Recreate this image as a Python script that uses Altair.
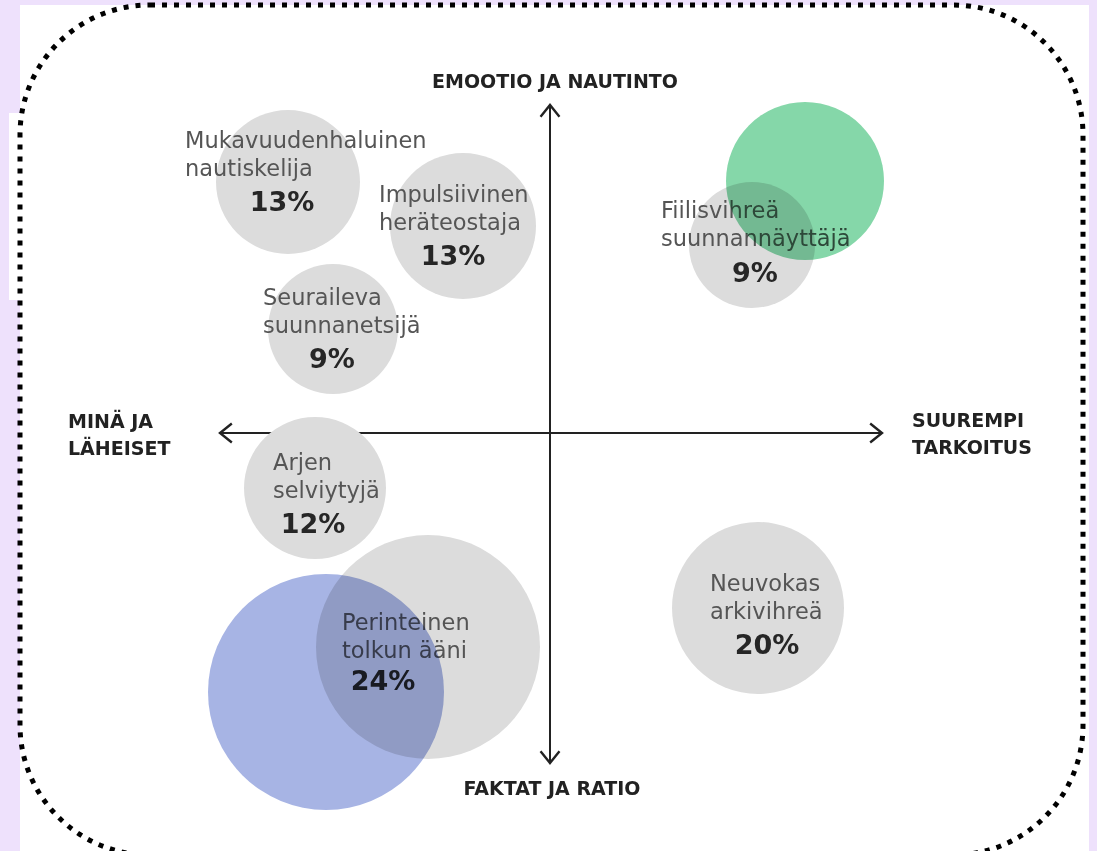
import altair as alt
import pandas as pd

# ---------------- data (axis units: origin at the crossing of the two arrows) ----------------
line1 = ["Mukavuudenhaluinen", "Impulsiivinen", "Seuraileva", "Fiilisvihreä",
         "Arjen", "Perinteinen", "Neuvokas"]
line2 = ["nautiskelija", "heräteostaja", "suunnanetsijä", "suunnannäyttäjä",
         "selviytyjä", "tolkun ääni", "arkivihreä"]
pct = [13, 13, 9, 9, 12, 24, 20]

bubble_x = [-2.62, -0.87, -2.17, 2.02, -2.35, -1.22, 2.08]
bubble_y = [2.51, 2.07, 1.04, 1.88, -0.55, -2.14, -1.75]
bubble_r = [0.72, 0.73, 0.65, 0.63, 0.71, 1.12, 0.86]

label_x = [-3.65, -1.71, -2.87, 1.11, -2.77, -2.08, 1.60]
label_y = [2.85, 2.31, 1.28, 2.15, -0.37, -1.97, -1.58]
pct_x = [-2.68, -0.97, -2.18, 2.05, -2.37, -1.67, 2.17]
pct_y = [2.22, 1.68, 0.65, 1.51, -1.00, -2.57, -2.21]

# highlight circles
hl_name = ["vihreä", "sininen"]
hl_x = [2.55, -2.24]
hl_y = [2.52, -2.59]
hl_r = [0.79, 1.18]
hl_color = ["#85D7A9", "#A7B4E4"]

# axes (arrows)
axis_x1 = [0.0, -3.30]
axis_x2 = [0.0, 3.32]
axis_y1 = [3.28, 0.0]
axis_y2 = [-3.30, 0.0]
tip_x = [0.0, 0.0, -3.30, 3.32]
tip_y = [3.28, -3.30, 0.0, 0.0]
tip_dir = [270, 90, 180, 0]

# axis captions
cap_text = ["EMOOTIO JA NAUTINTO", "FAKTAT JA RATIO", "MINÄ JA\nLÄHEISET", "SUUREMPI\nTARKOITUS"]
cap_x = [0.05, 0.02, -4.82, 3.62]
cap_y = [3.45, -3.62, 0.05, 0.06]
cap_align = ["center", "center", "left", "left"]

# frame / paper
paper_x1 = [-5.30, -5.41]
paper_x2 = [5.39, -5.30]
paper_y1 = [4.28, 3.20]
paper_y2 = [-4.60, 1.33]
frame_x1, frame_x2, frame_y1, frame_y2 = [-5.30], [5.33], [4.28], [-4.22]

# ---------------- tables ----------------
bubbles = pd.DataFrame({
    "label": [a + "\n" + b for a, b in zip(line1, line2)],
    "pct": [f"{p}%" for p in pct],
    "bx": bubble_x, "by": bubble_y, "r": bubble_r,
    "lx": label_x, "ly": label_y, "px": pct_x, "py": pct_y,
})
hl = pd.DataFrame({"name": hl_name, "x": hl_x, "y": hl_y, "r": hl_r, "c": hl_color})
axes_df = pd.DataFrame({"x1": axis_x1, "x2": axis_x2, "y1": axis_y1, "y2": axis_y2})
tips = pd.DataFrame({"x": tip_x, "y": tip_y, "a": tip_dir})
caps = pd.DataFrame({"t": cap_text, "x": cap_x, "y": cap_y, "al": cap_align})
paper = pd.DataFrame({"x1": paper_x1, "x2": paper_x2, "y1": paper_y1, "y2": paper_y2})
frame = pd.DataFrame({"x1": frame_x1, "x2": frame_x2, "y1": frame_y1, "y2": frame_y2})

XS = alt.Scale(domain=[-5.50, 5.47], nice=False, zero=False)
YS = alt.Scale(domain=[-4.18, 4.33], nice=False, zero=False)
RS = alt.Scale(type="pow", exponent=2, domain=[0, 1], range=[0, 40000])


def X(f):
    return alt.X(f, type="quantitative", scale=XS, axis=None)


def Y(f):
    return alt.Y(f, type="quantitative", scale=YS, axis=None)


paper_layer = alt.Chart(paper).mark_rect(color="white", clip=True).encode(
    x=X("x1"), x2="x2", y=Y("y1"), y2="y2")

axis_layer = alt.Chart(axes_df).mark_rule(color="#222222", strokeWidth=2).encode(
    x=X("x1"), x2="x2", y=Y("y1"), y2="y2")

tip_layer = alt.Chart(tips).mark_point(
    shape="M -1 -0.8 L 0 0 L -1 0.8", filled=False, size=560, strokeWidth=2.4,
    color="#222222", opacity=1, strokeJoin="miter").encode(
    x=X("x"), y=Y("y"), angle=alt.Angle("a:Q", scale=None))

bubble_layer = alt.Chart(bubbles).mark_circle(color="#DCDCDC", opacity=1).encode(
    x=X("bx"), y=Y("by"), size=alt.Size("r:Q", scale=RS, legend=None))

label_layer = alt.Chart(bubbles).mark_text(
    align="left", baseline="alphabetic", font="DejaVu Sans", fontSize=22.5,
    color="#555555", lineBreak="\n", lineHeight=28).encode(
    x=X("lx"), y=Y("ly"), text="label:N")

pct_layer = alt.Chart(bubbles).mark_text(
    align="center", baseline="alphabetic", font="DejaVu Sans", fontSize=27,
    fontWeight="bold", color="#262626").encode(
    x=X("px"), y=Y("py"), text="pct:N")

cap_left = alt.Chart(caps).transform_filter("datum.al == 'left'").mark_text(
    align="left", baseline="alphabetic", font="DejaVu Sans", fontSize=19,
    fontWeight="bold", color="#222222", lineBreak="\n",
    lineHeight=27).encode(x=X("x"), y=Y("y"), text="t:N")
cap_center = alt.Chart(caps).transform_filter("datum.al == 'center'").mark_text(
    align="center", baseline="alphabetic", font="DejaVu Sans", fontSize=19,
    fontWeight="bold", color="#222222").encode(
    x=X("x"), y=Y("y"), text="t:N")

frame_layer = alt.Chart(frame).mark_rect(
    fillOpacity=0, stroke="black", strokeWidth=5, strokeDash=[5, 7],
    cornerRadius=130, clip=True).encode(x=X("x1"), x2="x2", y=Y("y1"), y2="y2")

hl_layer = alt.Chart(hl).mark_circle(opacity=1, blend="multiply").encode(
    x=X("x"), y=Y("y"), size=alt.Size("r:Q", scale=RS, legend=None),
    color=alt.Color("c:N", scale=None))

chart = alt.layer(
    paper_layer, axis_layer, tip_layer, bubble_layer, label_layer, pct_layer,
    cap_left, cap_center, frame_layer, hl_layer
).properties(
    width=1097, height=851, background="#EEE1FC", padding=0,
    autosize=alt.AutoSizeParams(type="none")
).configure_view(stroke=None)

chart.save("out.html", embed_options={"renderer": "svg", "actions": False})
